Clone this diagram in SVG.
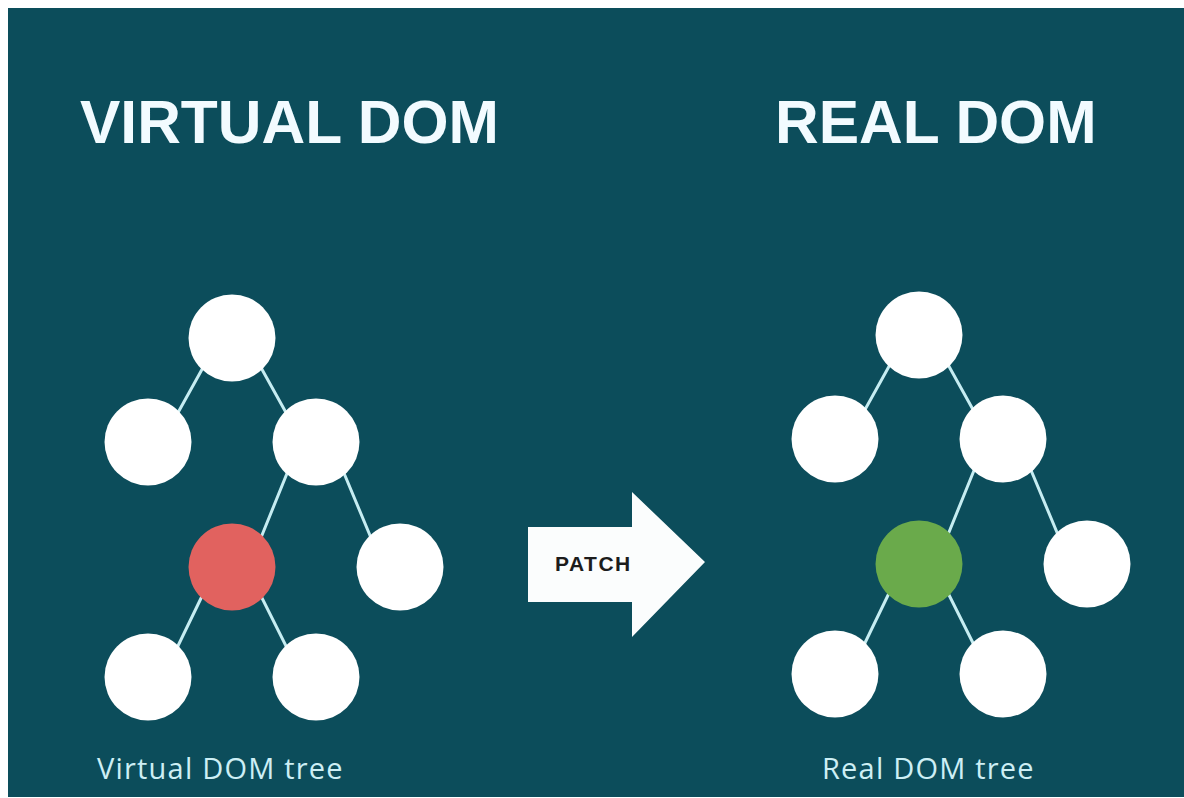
<svg xmlns="http://www.w3.org/2000/svg" width="1184" height="798" viewBox="0 0 1184 798">
  <style>
    .title { font-family: "Liberation Sans", Arial, sans-serif; font-weight: bold; font-size: 60.5px; fill: #f2fbff; }
    .caption { font-family: "Open Sans", "Noto Sans", sans-serif; font-size: 29px; letter-spacing: 1.2px; fill: #cdeff5; }
    .node { fill: #ffffff; }
    .edge { stroke: #c6edf2; stroke-width: 3; stroke-linecap: round; fill: none; }
    .patch { font-family: "Liberation Sans", Arial, sans-serif; font-weight: bold; font-size: 21px; fill: #1c1c1c; letter-spacing: 1.5px; }
  </style>

  <!-- backdrop -->
  <rect x="0" y="0" width="1184" height="798" fill="#ffffff"/>
  <rect x="8" y="8" width="1176" height="789" fill="#0c4d5b"/>

  <!-- headings -->
  <text class="title" x="80" y="143">VIRTUAL DOM</text>
  <text class="title" x="775" y="143">REAL DOM</text>

  <!-- tree edges -->
  <g id="connectors">
    <!-- virtual tree -->
    <line class="edge" x1="205" y1="364" x2="175" y2="418"/>
    <line class="edge" x1="259" y1="364" x2="289" y2="418"/>
    <line class="edge" x1="290" y1="466" x2="258" y2="545"/>
    <line class="edge" x1="341" y1="466" x2="374" y2="545"/>
    <line class="edge" x1="205" y1="590" x2="175" y2="652"/>
    <line class="edge" x1="258" y1="590" x2="289" y2="652"/>
    <!-- real tree -->
    <line class="edge" x1="892" y1="361" x2="862" y2="415"/>
    <line class="edge" x1="946" y1="361" x2="976" y2="415"/>
    <line class="edge" x1="977" y1="463" x2="945" y2="542"/>
    <line class="edge" x1="1028" y1="463" x2="1061" y2="542"/>
    <line class="edge" x1="892" y1="587" x2="862" y2="649"/>
    <line class="edge" x1="945" y1="587" x2="976" y2="649"/>
  </g>

  <!-- virtual DOM tree nodes -->
  <g id="v-root"><circle class="node" cx="232" cy="338" r="43.5"/></g>
  <g id="v-left"><circle class="node" cx="148" cy="442" r="43.5"/></g>
  <g id="v-right"><circle class="node" cx="316" cy="442" r="43.5"/></g>
  <g id="v-changed"><circle cx="232" cy="567" r="43.5" fill="#e1625f"/></g>
  <g id="v-right-right"><circle class="node" cx="400" cy="567" r="43.5"/></g>
  <g id="v-leaf-left"><circle class="node" cx="148" cy="677" r="43.5"/></g>
  <g id="v-leaf-right"><circle class="node" cx="316" cy="677" r="43.5"/></g>

  <!-- real DOM tree nodes -->
  <g id="r-root"><circle class="node" cx="919" cy="335" r="43.5"/></g>
  <g id="r-left"><circle class="node" cx="835" cy="439" r="43.5"/></g>
  <g id="r-right"><circle class="node" cx="1003" cy="439" r="43.5"/></g>
  <g id="r-patched"><circle cx="919" cy="564" r="43.5" fill="#6aaa4b"/></g>
  <g id="r-right-right"><circle class="node" cx="1087" cy="564" r="43.5"/></g>
  <g id="r-leaf-left"><circle class="node" cx="835" cy="674" r="43.5"/></g>
  <g id="r-leaf-right"><circle class="node" cx="1003" cy="674" r="43.5"/></g>

  <!-- patch arrow -->
  <g id="patch-arrow">
    <polygon points="528,527 632,527 632,492 705,562 632,637 632,602 528,602" fill="#fbfdfd"/>
    <text class="patch" x="555" y="571">PATCH</text>
  </g>

  <!-- captions -->
  <text class="caption" x="97" y="779">Virtual DOM tree</text>
  <text class="caption" x="822" y="779">Real DOM tree</text>
</svg>
